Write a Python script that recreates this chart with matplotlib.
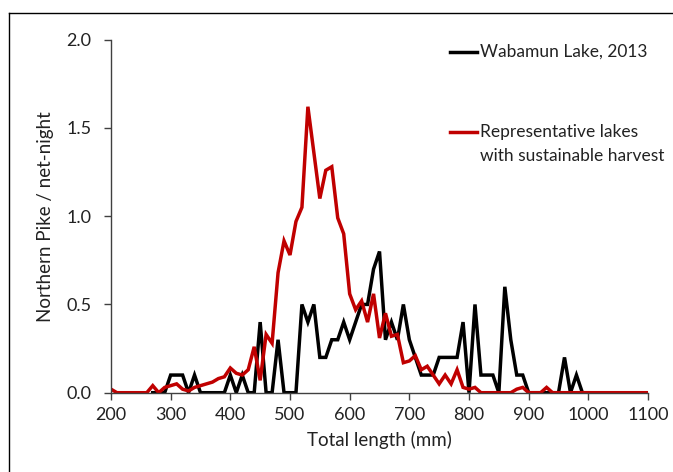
import matplotlib
matplotlib.use("Agg")
import matplotlib.pyplot as plt
from matplotlib.lines import Line2D

plt.rcParams['font.family'] = ['Lato', 'DejaVu Sans']

# black series: Wabamun Lake, 2013 (10 mm bins)
wab_len = list(range(270, 1010, 10))
wab_cpue = [0, 0, 0, 0.1, 0.1, 0.1, 0, 0.1, 0, 0, 0, 0, 0,      # 270-390
            0.1, 0, 0.1, 0, 0, 0.4, 0, 0, 0.3, 0, 0, 0,          # 400-510
            0.5, 0.4, 0.5, 0.2, 0.2, 0.3, 0.3, 0.4, 0.3, 0.4,    # 520-610
            0.5, 0.5, 0.7, 0.8, 0.3, 0.4, 0.3, 0.5, 0.3, 0.2,    # 620-710
            0.1, 0.1, 0.1, 0.2, 0.2, 0.2, 0.2, 0.4, 0, 0.5,      # 720-810
            0.1, 0.1, 0.1, 0, 0.6, 0.3, 0.1, 0.1, 0, 0,          # 820-910
            0, 0, 0, 0, 0.2, 0, 0.1, 0, 0]                       # 920-1000

# red series: representative lakes with sustainable harvest
rep_len = list(range(200, 1110, 10))
rep_cpue = [0.02, 0, 0, 0, 0, 0, 0, 0.04, 0, 0.03,               # 200-290
            0.04, 0.05, 0.02, 0.01, 0.03, 0.04, 0.05, 0.06, 0.08, 0.09,  # 300-390
            0.14, 0.11, 0.10, 0.13, 0.26, 0.07, 0.33, 0.28, 0.68, 0.86,  # 400-490
            0.78, 0.97, 1.05, 1.62, 1.36, 1.10, 1.26, 1.28, 0.99, 0.90,  # 500-590
            0.56, 0.47, 0.52, 0.40, 0.56, 0.31, 0.45, 0.32, 0.33, 0.17,  # 600-690
            0.18, 0.21, 0.13, 0.15, 0.10, 0.05, 0.10, 0.05, 0.13, 0.03,  # 700-790
            0.02, 0.03, 0, 0, 0, 0, 0, 0, 0.02, 0.03,                    # 800-890
            0, 0, 0, 0.03, 0, 0, 0, 0, 0, 0,                             # 900-990
            0, 0, 0, 0, 0, 0, 0, 0, 0, 0, 0]                             # 1000-1100

fig = plt.figure(figsize=(6.73, 4.72), dpi=100)
ax = fig.add_axes([0.1649, 0.168, 0.798, 0.748])

ax.plot(wab_len, wab_cpue, color='black', lw=2.5, solid_joinstyle='miter')
ax.plot(rep_len, rep_cpue, color='#c00000', lw=2.5, solid_joinstyle='miter')

ax.set_xlim(200, 1100)
ax.set_ylim(0, 2.0)
ax.set_xticks(range(200, 1101, 100))
ax.set_yticks([0, 0.5, 1.0, 1.5, 2.0])
ax.set_yticklabels(['0.0', '0.5', '1.0', '1.5', '2.0'])
for s in ['top', 'right']:
    ax.spines[s].set_visible(False)
for s in ['left', 'bottom']:
    ax.spines[s].set_color('#404040')
    ax.spines[s].set_linewidth(1.0)
ax.tick_params(axis='both', direction='out', length=5, width=1.0,
               color='#404040', labelsize=13, labelcolor='#222222')
ax.tick_params(axis='y', pad=9)
ax.tick_params(axis='x', pad=5)
ax.set_xlabel('Total length (mm)', fontsize=13.5, color='#222222', labelpad=6)
ax.set_ylabel('Northern Pike / net-night', fontsize=13.5, color='#222222', labelpad=9)

# legend drawn by hand
fig.add_artist(Line2D([450 / 673, 477 / 673], [1 - 52 / 472, 1 - 52 / 472],
                      color='black', lw=2.5))
fig.text(480 / 673, 1 - 52 / 472, 'Wabamun Lake, 2013', fontsize=12.5,
         color='#222222', va='center', ha='left')
fig.add_artist(Line2D([450 / 673, 477 / 673], [1 - 132 / 472, 1 - 132 / 472],
                      color='#c00000', lw=2.5))
fig.text(480 / 673, 1 - 132 / 472, 'Representative lakes', fontsize=12.5,
         color='#222222', va='center', ha='left')
fig.text(480 / 673, 1 - 156 / 472, 'with sustainable harvest', fontsize=12.5,
         color='#222222', va='center', ha='left')

# frame edges of the cropped picture
fig.add_artist(Line2D([9 / 673, 1], [1 - 13 / 472, 1 - 13 / 472], color='black', lw=1))
fig.add_artist(Line2D([9 / 673, 9 / 673], [0, 1 - 13 / 472], color='black', lw=1))

fig.savefig('out.png', dpi=100)
